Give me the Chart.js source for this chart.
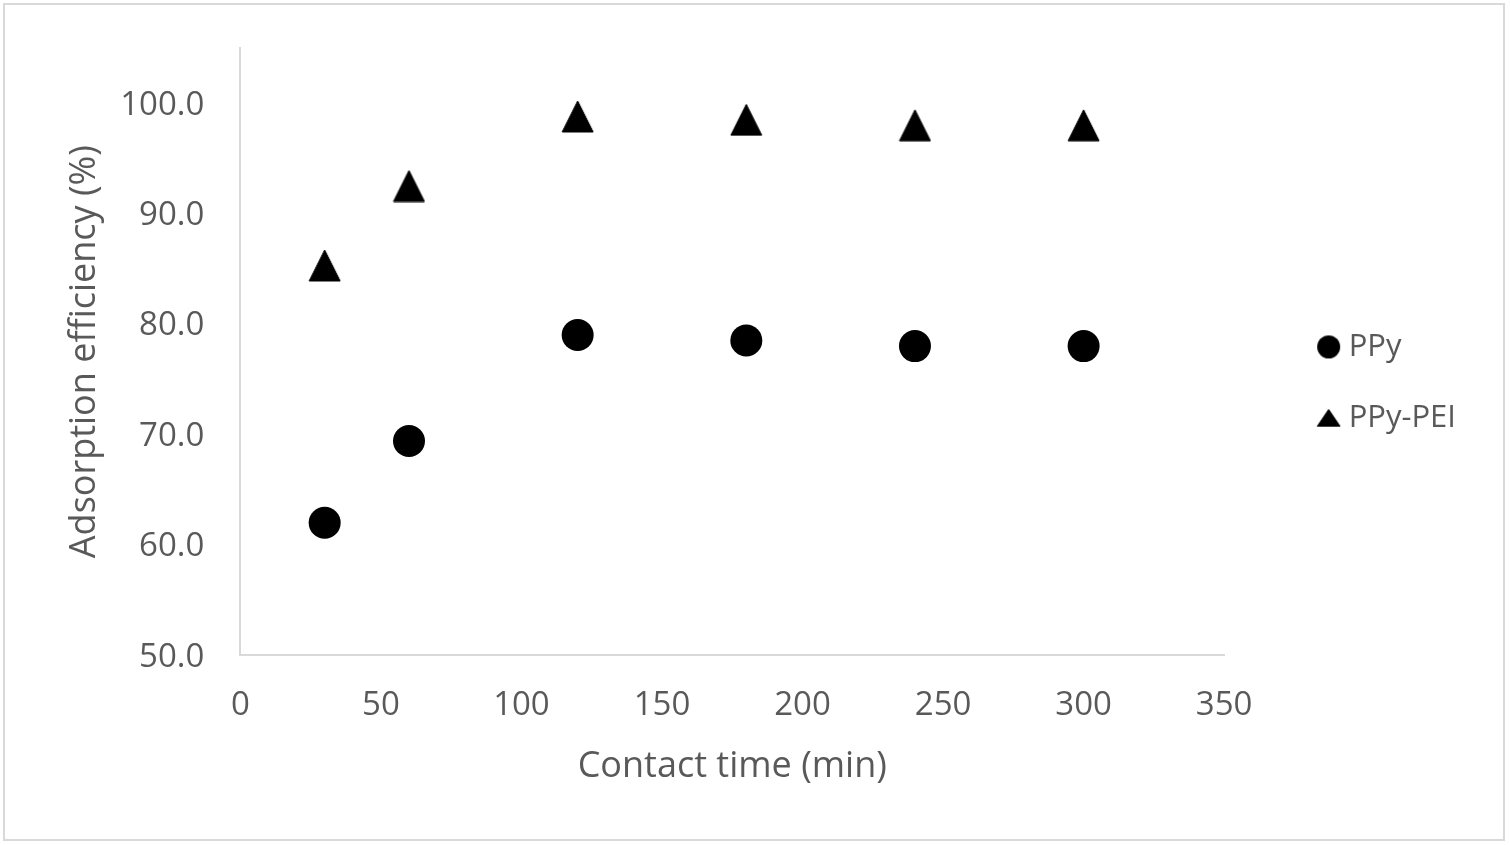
<!DOCTYPE html>
<html>
<head>
<meta charset="utf-8">
<script src="https://cdn.jsdelivr.net/npm/chart.js@4.4.1/dist/chart.umd.min.js"></script>
<style>
  body { margin: 0; background: #fff; }
  #frame {
    position: absolute; left: 3px; top: 3px;
    width: 1502px; height: 838px;
    box-sizing: border-box;
    border: 2px solid #d9d9d9;
    background: #fff;
  }
</style>
</head>
<body>
<div id="frame"><canvas id="chart" width="1498" height="834"></canvas></div>
<script>
// Dữ liệu
const timeMin = [30, 60, 120, 180, 240, 300];
const ppyValues = [62.0, 69.4, 79.0, 78.5, 78.0, 78.0];
const ppyPeiValues = [85.3, 92.5, 98.8, 98.5, 98.0, 98.0];
const yTicks = [50, 60, 70, 80, 90, 100];
const seriesNames = ['PPy', 'PPy-PEI'];

// Tam giác kiểu Excel (vẽ sẵn lên canvas để dùng làm pointStyle)
function makeTriangle(w, h) {
    const c = document.createElement('canvas');
    c.width = w + 2;
    c.height = h + 2;
    const g = c.getContext('2d');
    g.fillStyle = '#000';
    g.strokeStyle = '#000';
    g.lineJoin = 'round';
    g.lineWidth = 1;
    g.beginPath();
    g.moveTo(1 + w / 2, 1);
    g.lineTo(1 + w, 1 + h);
    g.lineTo(1, 1 + h);
    g.closePath();
    g.fill();
    g.stroke();
    return c;
}

function makeCircle(d) {
    const c = document.createElement('canvas');
    c.width = d + 2;
    c.height = d + 2;
    const g = c.getContext('2d');
    g.fillStyle = '#000';
    g.beginPath();
    g.arc(1 + d / 2, 1 + d / 2, d / 2, 0, Math.PI * 2);
    g.fill();
    return c;
}

const triangleMark = makeTriangle(31, 31);
const legendMarks = [makeCircle(23), makeTriangle(23, 17)];

Chart.defaults.font.family = "'Open Sans', 'Liberation Sans', sans-serif";
Chart.defaults.color = '#595959';

// vạch chia trong suốt: chỉ dùng để đẩy nhãn ra xa trục
const hiddenGrid = { display: true, drawOnChartArea: false, drawTicks: true, color: 'rgba(0,0,0,0)' };

const ctx = document.getElementById('chart').getContext('2d');
new Chart(ctx, {
    type: 'scatter',
    data: {
        datasets: [{
            label: seriesNames[0],
            data: timeMin.map((t, i) => ({ x: t, y: ppyValues[i] })),
            pointStyle: 'circle',
            pointRadius: 16,
            pointBorderWidth: 0,
            backgroundColor: '#000',
            borderColor: '#000'
        }, {
            label: seriesNames[1],
            data: timeMin.map((t, i) => ({ x: t, y: ppyPeiValues[i] })),
            pointStyle: triangleMark,
            pointRadius: 16,
            backgroundColor: '#000',
            borderColor: '#000'
        }]
    },
    options: {
        responsive: false,
        animation: false,
        devicePixelRatio: 1,
        layout: { padding: { left: 40, top: 43, right: 37, bottom: 51 } },
        plugins: {
            tooltip: { enabled: false },
            legend: {
                position: 'right',
                align: 'start',
                title: { display: true, text: '', font: { size: 12 }, padding: { top: 229, bottom: 0 } },
                labels: {
                    usePointStyle: true,
                    pointStyleWidth: 9,
                    padding: 40,
                    font: { size: 31 },
                    color: '#595959',
                    generateLabels: function (chart) {
                        const items = Chart.defaults.plugins.legend.labels.generateLabels(chart);
                        items.forEach((it, i) => { it.pointStyle = legendMarks[i]; });
                        return items;
                    }
                }
            }
        },
        scales: {
            x: {
                type: 'linear',
                min: 0,
                max: 350,
                ticks: { stepSize: 50, padding: 0, font: { size: 33 }, color: '#595959' },
                grid: Object.assign({ tickLength: 31 }, hiddenGrid),
                border: { display: true, color: '#d9d9d9', width: 2 },
                title: {
                    display: true,
                    text: 'Contact time (min)',
                    font: { size: 36 },
                    color: '#595959',
                    padding: { top: 19, bottom: 0 }
                }
            },
            y: {
                type: 'linear',
                min: 50,
                max: 105,
                afterBuildTicks: function (axis) {
                    axis.ticks = yTicks.map(v => ({ value: v }));
                },
                ticks: {
                    padding: 0,
                    labelOffset: 2,
                    font: { size: 33 },
                    color: '#595959',
                    callback: v => v.toFixed(1)
                },
                grid: Object.assign({ tickLength: 36 }, hiddenGrid),
                border: { display: true, color: '#d9d9d9', width: 2 },
                title: {
                    display: true,
                    text: 'Adsorption efficiency (%)',
                    font: { size: 36 },
                    color: '#595959',
                    padding: { top: 18, bottom: 14 }
                }
            },
            // trục trống bên phải: tạo khoảng cách giữa vùng vẽ và chú thích
            gap: {
                type: 'linear',
                position: 'right',
                display: true,
                ticks: { display: false },
                grid: { display: false, drawTicks: false },
                border: { display: false },
                afterFit: function (axis) { axis.width = 60; }
            }
        }
    }
});
</script>
</body>
</html>
